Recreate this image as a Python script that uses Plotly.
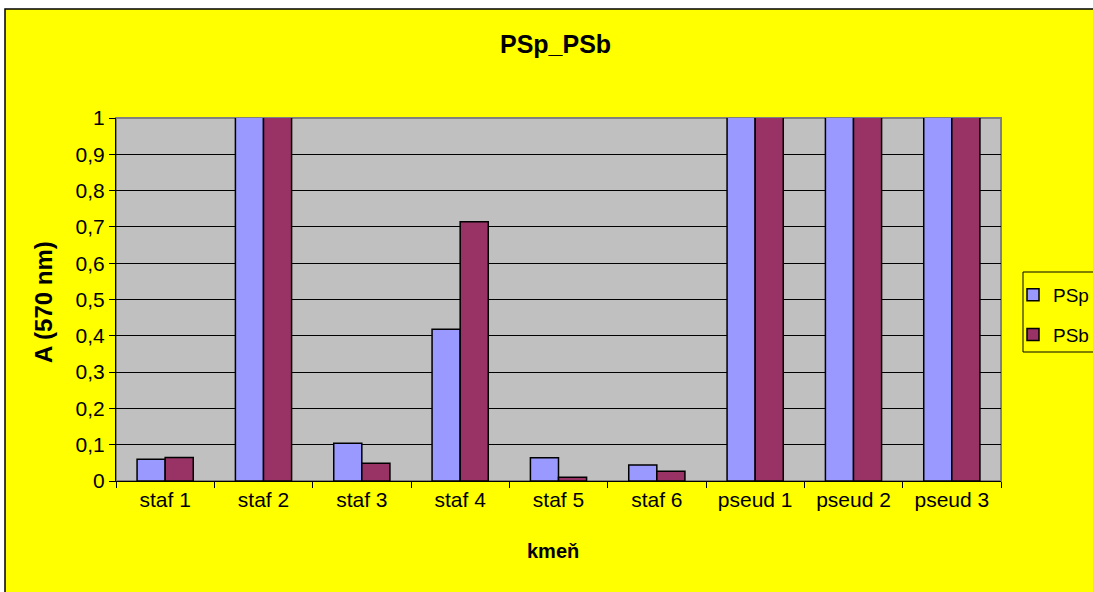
import plotly.graph_objects as go

categories = ["staf 1", "staf 2", "staf 3", "staf 4", "staf 5", "staf 6", "pseud 1", "pseud 2", "pseud 3"]
psp = [0.060, 1.01, 0.104, 0.418, 0.064, 0.044, 1.01, 1.01, 1.01]
psb = [0.065, 1.01, 0.049, 0.714, 0.010, 0.027, 1.01, 1.01, 1.01]
ytick_vals = [0, 0.1, 0.2, 0.3, 0.4, 0.5, 0.6, 0.7, 0.8, 0.9, 1.0]
ytick_text = ["0", "0,1", "0,2", "0,3", "0,4", "0,5", "0,6", "0,7", "0,8", "0,9", "1"]

FONT = "Liberation Sans, Arial, sans-serif"

fig = go.Figure()
fig.add_trace(go.Bar(x=categories, y=psp, name="PSp", legendgroup="a",
                     marker=dict(color="#9999FF", line=dict(color="black", width=1.5))))
fig.add_trace(go.Bar(x=categories, y=psb, name="PSb", legendgroup="b",
                     marker=dict(color="#993366", line=dict(color="black", width=1.5))))

W, H = 1093, 592
L, R, T, B = 116, 1001, 118, 481
pw, ph = R - L, B - T

def px2x(px):
    return (px - L) / pw

def px2y(py):
    return (B - py) / ph

fig.update_layout(
    width=W, height=H,
    margin=dict(l=L, r=W - R, t=T, b=H - B, pad=0, autoexpand=False),
    paper_bgcolor="white",
    plot_bgcolor="#C0C0C0",
    barmode="group",
    bargap=0.4286,
    bargroupgap=0,
    font=dict(family=FONT, size=21, color="black"),
    showlegend=True,
    legend=dict(x=px2x(1013), y=px2y(276), xanchor="left", yanchor="top",
                bgcolor="rgba(0,0,0,0)", borderwidth=0,
                font=dict(size=19), tracegroupgap=12, traceorder="grouped",
                itemwidth=30),
    xaxis=dict(type="category", showgrid=False, showline=True, linecolor="black", linewidth=1,
               ticks="outside", tickson="boundaries", ticklen=6, tickcolor="black",
               tickfont=dict(size=21), zeroline=False),
    yaxis=dict(range=[0, 1], tickvals=ytick_vals, ticktext=ytick_text,
               showgrid=True, gridcolor="black", gridwidth=1,
               showline=True, linecolor="black", linewidth=1,
               ticks="outside", ticklen=6, tickcolor="black",
               tickfont=dict(size=21), zeroline=False),
    shapes=[
        dict(type="rect", xref="paper", yref="paper", layer="below",
             x0=px2x(5), x1=px2x(1200), y0=px2y(700), y1=px2y(9),
             fillcolor="#FFFF00", line=dict(color="black", width=1.5)),
        dict(type="rect", xref="paper", yref="paper", layer="below",
             x0=0, x1=1, y0=0, y1=1,
             fillcolor="#C0C0C0", line=dict(color="#808080", width=2)),
        dict(type="rect", xref="paper", yref="paper", layer="below",
             x0=px2x(1023), x1=px2x(1200), y0=px2y(352), y1=px2y(272),
             fillcolor="#FFFF00", line=dict(color="black", width=1)),
    ],
    annotations=[
        dict(text="<b>PSp_PSb</b>", xref="paper", yref="paper", x=px2x(555), y=px2y(44),
             xanchor="center", yanchor="middle", showarrow=False, font=dict(size=25)),
        dict(text="<b>kmeň</b>", xref="paper", yref="paper", x=px2x(553), y=px2y(551),
             xanchor="center", yanchor="middle", showarrow=False, font=dict(size=20)),
        dict(text="<b>A (570 nm)</b>", xref="paper", yref="paper", x=px2x(43), y=px2y(302),
             xanchor="center", yanchor="middle", showarrow=False, textangle=-90,
             font=dict(size=24)),
    ],
)

fig.write_html("out.html", config={"displayModeBar": False},
               post_script="document.body.style.margin='0px';")
